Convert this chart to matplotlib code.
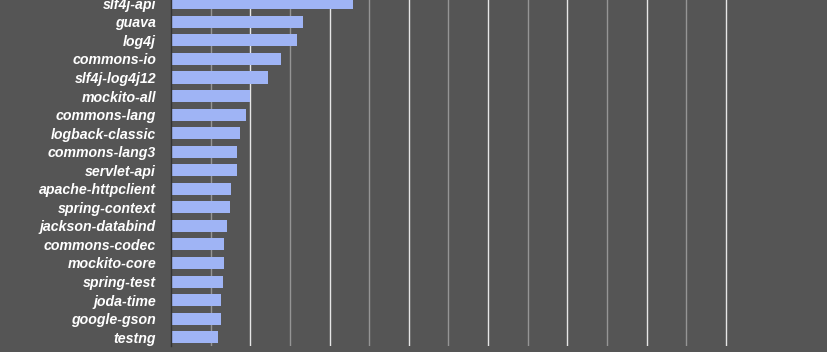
import matplotlib
matplotlib.use("Agg")
import matplotlib.pyplot as plt

libraries = ["slf4j-api", "guava", "log4j", "commons-io", "slf4j-log4j12",
             "mockito-all", "commons-lang", "logback-classic", "commons-lang3",
             "servlet-api", "apache-httpclient", "spring-context",
             "jackson-databind", "commons-codec", "mockito-core", "spring-test",
             "joda-time", "google-gson", "testng"]
counts = [2292, 1669, 1586, 1384, 1227, 996, 942, 870, 829, 829, 757, 744,
          703, 669, 669, 652, 631, 631, 589]

bg = "#555555"
bar_color = "#9fb4f5"

fig = plt.figure(figsize=(8.27, 3.52), dpi=100, facecolor=bg)
pitch = 18.55
n = len(libraries)
top_center_px = 3.3
ax_top_px = top_center_px - 0.5 * pitch
ax_h_px = n * pitch
ax_left = 171 / 827
ax_w = (827 - 171) / 827
ax_bottom = 1 - (ax_top_px + ax_h_px) / 352
ax = fig.add_axes([ax_left, ax_bottom, ax_w, ax_h_px / 352])
ax.set_facecolor(bg)

y = list(range(n))
ax.barh(y, counts, height=0.65, color=bar_color, zorder=3)
ax.set_ylim(n - 0.5, -0.5)

px_per_unit = 39.64 / 500
ax.set_xlim(0, (827 - 171) / px_per_unit)

major = [1000 * k for k in range(1, 8)]
minor = [500 + 1000 * k for k in range(0, 7)]
ax.set_xticks(major)
ax.set_xticks(minor, minor=True)
ax.grid(False)
for v in major:
    ax.axvline(v, color="#e6e6e6", lw=1.0, zorder=1)
for v in minor:
    ax.axvline(v, color="#959595", lw=1.0, zorder=1)
ax.tick_params(axis="x", which="both", length=0, labelbottom=False)

ax.set_yticks(y)
ax.set_yticklabels(libraries, fontfamily="Liberation Sans", fontweight="bold",
                   fontstyle="italic", fontsize=10.2, color="white")
ax.tick_params(axis="y", length=0, pad=10.8)

for s in ["top", "right", "bottom"]:
    ax.spines[s].set_visible(False)
ax.spines["left"].set_color("#333333")
ax.spines["left"].set_linewidth(1.0)
ax.spines["left"].set_zorder(4)

fig.savefig("out.png", dpi=100, facecolor=bg)
